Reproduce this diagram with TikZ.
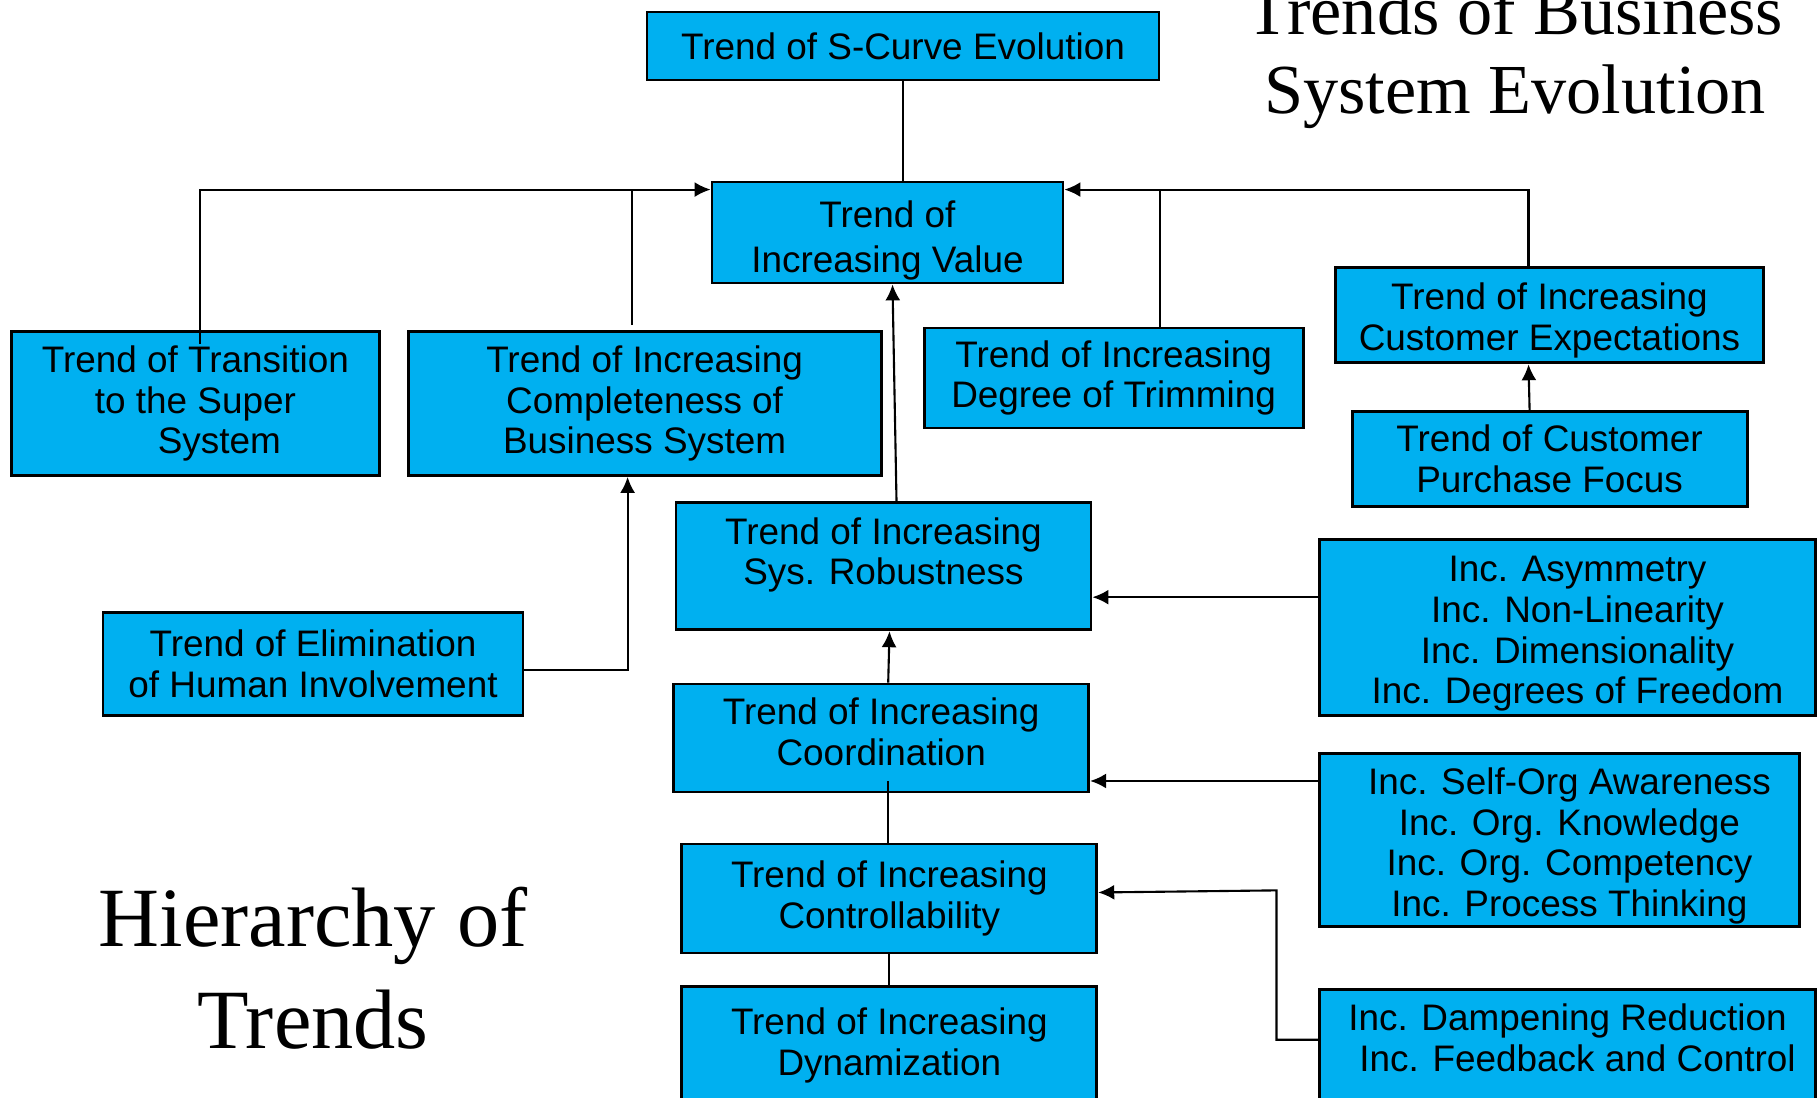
\documentclass[tikz,border=0pt]{standalone}
\usepackage{fontspec}
\setmainfont{Liberation Sans}
\newfontfamily\titlefont{Liberation Serif}
\usetikzlibrary{arrows.meta}
\definecolor{trendblue}{RGB}{0,176,240}
\newcommand{\lead}{\hspace*{0.2cm}}
\tikzset{
    trendbox/.style={draw=black,fill=trendblue,line width=0.8pt,align=center,inner sep=0pt,
        font=\fontsize{10.5}{11.6}\selectfont},
    link/.style={line width=0.6pt},
    linkarrow/.style={line width=0.6pt,-{Latex[length=1.6mm,width=1.5mm]}},
    bigtitle/.style={align=center,inner sep=0pt,font=\titlefont\fontsize{24}{29}\selectfont},
    sidetitle/.style={align=center,inner sep=0pt,font=\titlefont\fontsize{20}{22.5}\selectfont},
}

\begin{document}
\begin{tikzpicture}
\useasboundingbox (0,0) rectangle (18.18,10.98);
\node[trendbox,minimum width=5.12cm,minimum height=0.68cm] (scurve) at (9.03,10.52) {Trend of S-Curve Evolution};
\node[trendbox,minimum width=3.51cm,minimum height=1.01cm,font=\fontsize{10.5}{12.8}\selectfont,text height=0.88cm] (value) at (8.875,8.655) {Trend of\\Increasing Value};
\node[trendbox,minimum width=3.675cm,minimum height=1.44cm] (transition) at (1.954,6.945) {Trend of Transition\\to the Super\\\hspace*{0.48cm}System};
\node[trendbox,minimum width=4.73cm,minimum height=1.44cm] (complete) at (6.446,6.945) {Trend of Increasing\\Completeness of\\Business System};
\node[trendbox,minimum width=3.79cm,minimum height=1.0cm] (trimming) at (11.136,7.20) {Trend of Increasing\\Degree of Trimming};
\node[trendbox,minimum width=4.28cm,minimum height=0.95cm,text height=0.77cm] (expect) at (15.495,7.826) {Trend of Increasing\\Customer Expectations};
\node[trendbox,minimum width=3.95cm,minimum height=0.95cm] (purchase) at (15.496,6.389) {Trend of Customer\\Purchase Focus};
\node[trendbox,minimum width=4.15cm,minimum height=1.275cm,inner ysep=0.15cm,text depth=0.3cm,anchor=north] (robust) at (8.835,5.971) {Trend of Increasing\\Sys. Robustness};
\node[trendbox,minimum width=4.96cm,minimum height=1.76cm,text height=1.61cm] (asym) at (15.675,4.708) {\lead Inc. Asymmetry\\\lead Inc. Non-Linearity\\\lead Inc. Dimensionality\\\lead Inc. Degrees of Freedom};
\node[trendbox,minimum width=4.2cm,minimum height=1.03cm] (human) at (3.13,4.343) {Trend of Elimination\\of Human Involvement};
\node[trendbox,minimum width=4.15cm,minimum height=1.08cm,text depth=0.13cm] (coord) at (8.812,3.6) {Trend of Increasing\\Coordination};
\node[trendbox,minimum width=4.8cm,minimum height=1.73cm,text height=1.61cm] (selforg) at (15.594,2.58) {\lead Inc. Self-Org Awareness\\\lead Inc. Org. Knowledge\\\lead Inc. Org. Competency\\\lead Inc. Process Thinking};
\node[trendbox,minimum width=4.15cm,minimum height=1.09cm] (control) at (8.893,1.995) {Trend of Increasing\\Controllability};
\node[trendbox,minimum width=4.15cm,inner ysep=0.21cm,text depth=0.8cm,anchor=north] (dynamic) at (8.893,1.125) {Trend of Increasing\\Dynamization};
\node[trendbox,minimum width=4.96cm,inner ysep=0.15cm,text depth=0.8cm,anchor=north] (damping) at (15.675,1.102) {Inc. Dampening Reduction\\\lead Inc. Feedback and Control};

\node[sidetitle] (bizevo) at (15.15,10.41) {Trends of Business\\System Evolution};
\node[bigtitle] (hierarchy) at (3.13,1.3) {Hierarchy of\\Trends};

\coordinate (busleft) at ([yshift=-0.09cm]value.north west);
\coordinate (busright) at ([yshift=-0.09cm]value.north east);
\coordinate (completetop) at ([xshift=-0.13cm,yshift=0.05cm]complete.north);
\coordinate (trimtop) at ([xshift=0.46cm]trimming.north);
\coordinate (asymin) at ([yshift=0.3cm]asym.west);
\coordinate (selforgin) at ([yshift=0.59cm]selforg.west);
\coordinate (coordlow) at ([xshift=0.07cm,yshift=0.12cm]coord.south);
\coordinate (dampbend) at (12.765,2.076);

\draw[link] (scurve.south) -- (scurve.south |- value.north);
\draw[linkarrow] ([xshift=0.05cm,yshift=-0.14cm]transition.north) |- (busleft);
\draw[link] (completetop) -- (completetop |- busleft);
\draw[link] (trimtop) -- (trimtop |- busright);
\draw[linkarrow] ([xshift=-0.21cm]expect.north) |- (busright);
\draw[linkarrow] ([xshift=-0.2cm]purchase.north) -- ([xshift=-0.21cm]expect.south);
\draw[linkarrow] ([xshift=0.13cm]robust.north) -- ([xshift=0.05cm]value.south);
\draw[linkarrow] ([yshift=-0.06cm]human.east) -| ([xshift=-0.17cm]complete.south);
\draw[linkarrow] ([xshift=0.07cm]coord.north) -- ([xshift=0.06cm]robust.south);
\draw[linkarrow] (asymin) -- (asymin -| robust.east);
\draw[linkarrow] (selforgin) -- (selforgin -| coord.east);
\draw[link] (coordlow) -- (coordlow |- control.north);
\draw[link] (control.south) -- (dynamic.north);
\draw[linkarrow] ([yshift=-0.52cm]damping.north west) -| (dampbend) -- ([yshift=0.06cm]control.east);
\end{tikzpicture}
\end{document}
